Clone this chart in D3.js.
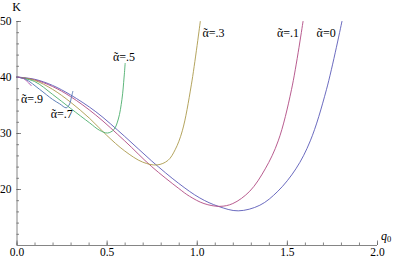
<!DOCTYPE html>
<html><head><meta charset="utf-8">
<script src="https://cdn.jsdelivr.net/npm/d3@7"></script>
<style>body{margin:0;background:#fff}svg{display:block}text{font-family:"Liberation Serif","Times New Roman",serif}</style>
</head><body><svg id="c" width="399" height="264"></svg>
<script>
// data
const alphaValues = ["0", ".1", ".3", ".5", ".7", ".9"];
const colors = ["#5a5ab8", "#b04a82", "#ab9a4c", "#4cae6c", "#4c72b0", "#ae4ca8"];
const q_a0 = [0, 0.1, 0.2, 0.3, 0.44, 0.6, 0.75, 0.9, 1.017, 1.12, 1.23, 1.35, 1.45, 1.55, 1.63, 1.72, 1.806];
const K_a0 = [40, 39.6, 38.5, 36.8, 33.8, 29.4, 25.0, 21.0, 18.4, 16.9, 16.1, 17.1, 19.6, 23.6, 28.6, 37.8, 50];
const q_a1 = [0, 0.1, 0.2, 0.3, 0.44, 0.6, 0.75, 0.9, 0.96, 1.04, 1.128, 1.2, 1.294, 1.38, 1.452, 1.526, 1.59];
const K_a1 = [40, 39.5, 38.3, 36.5, 33.2, 28.6, 24.0, 20.1, 18.7, 17.4, 16.9, 17.4, 19.6, 23.6, 28.6, 37.8, 50];
const q_a3 = [0, 0.1, 0.2, 0.3, 0.406, 0.5, 0.6, 0.7, 0.78, 0.84, 0.88, 0.92, 0.97, 1.02];
const K_a3 = [40, 39.4, 37.8, 35.5, 32.6, 29.6, 26.8, 24.8, 24.3, 25.1, 27.0, 30.4, 38.6, 50];
const q_a5 = [0, 0.1, 0.2, 0.3, 0.406, 0.46, 0.505, 0.54, 0.565, 0.585, 0.597, 0.603];
const K_a5 = [40, 39.2, 36.9, 34.4, 31.8, 30.5, 30.0, 30.6, 32.5, 36.0, 40.0, 42.5];
const q_a7 = [0, 0.05, 0.128, 0.2, 0.24, 0.276, 0.295, 0.304, 0.313];
const K_a7 = [40, 39.6, 37.8, 36.0, 35.2, 34.5, 35.2, 36.3, 37.5];
const q_a9 = [0, 0.04, 0.083];
const K_a9 = [40, 39.7, 38.4];
const xTicks = [0, 0.5, 1, 1.5, 2];
const yTicks = [20, 30, 40, 50];
const labelPos = [[1.665, 47.1], [1.445, 47.1], [1.032, 47.1], [0.535, 42.9], [0.19, 32.6], [0.025, 35.3]];

const series = [[q_a0, K_a0], [q_a1, K_a1], [q_a3, K_a3], [q_a5, K_a5], [q_a7, K_a7], [q_a9, K_a9]];

const svg = d3.select("#c");
const x = d3.scaleLinear().domain([0, 2]).range([16.5, 377]);
const y = d3.scaleLinear().domain([10, 50]).range([245, 21]);
const axisColor = "#666";

// minor ticks
const gxm = svg.append("g").attr("transform", `translate(0,${y(10)})`)
  .call(d3.axisBottom(x).tickValues(d3.range(0, 2.001, 0.1)).tickSize(-2.5).tickFormat(""));
const gym = svg.append("g").attr("transform", `translate(${x(0)},0)`)
  .call(d3.axisLeft(y).tickValues(d3.range(12, 50.01, 2)).tickSize(-2.5).tickFormat(""));
// major
const gx = svg.append("g").attr("transform", `translate(0,${y(10)})`)
  .call(d3.axisBottom(x).tickValues(xTicks).tickSize(-4.5).tickPadding(3).tickFormat(d3.format(".1f")));
const gy = svg.append("g").attr("transform", `translate(${x(0)},0)`)
  .call(d3.axisLeft(y).tickValues(yTicks).tickSize(-4.5).tickPadding(5).tickFormat(d3.format("d")));
[gxm, gym, gx, gy].forEach(g => {
  g.attr("font-family", null);
  g.select(".domain").attr("stroke", axisColor).attr("stroke-width", 0.8);
  g.selectAll(".tick line").attr("stroke", axisColor).attr("stroke-width", 0.8);
  g.selectAll("text").attr("fill", "#000").style("font-size", "11.5px")
    .style("font-family", '"Liberation Serif", serif');
});
gx.selectAll(".domain").attr("d", `M${x(0)},0.5H${x(2)}`);
gy.selectAll(".domain").attr("d", `M0.5,${y(10)}V${y(50)}`);
gxm.select(".domain").remove(); gym.select(".domain").remove();

const line = d3.line().x(d => x(d[0])).y(d => y(d[1])).curve(d3.curveCatmullRom.alpha(0.5));
series.forEach((s, i) => {
  const pts = s[0].map((q, j) => [q, s[1][j]]);
  svg.append("path").attr("d", line(pts)).attr("fill", "none")
    .attr("stroke", colors[i]).attr("stroke-width", 0.9);
});

const labs = svg.selectAll(".lab").data(alphaValues).join("text").attr("class", "lab")
  .attr("x", (d, i) => x(labelPos[i][0])).attr("y", (d, i) => y(labelPos[i][1]))
  .attr("font-size", 12).attr("fill", "#000");
labs.append("tspan").text("α");
labs.append("tspan").attr("dx", -5.2).text("˜");
labs.append("tspan").attr("dx", 1.2).text(d => "=" + d);

svg.append("text").attr("x", x(0)).attr("y", 11).attr("text-anchor", "middle")
  .attr("font-size", 12).text("K");
const ql = svg.append("text").attr("x", 381).attr("y", 240).attr("font-size", 12);
ql.append("tspan").attr("font-style", "italic").text("q");
ql.append("tspan").attr("font-size", 8.5).attr("dy", 2).text("0");
</script></body></html>
